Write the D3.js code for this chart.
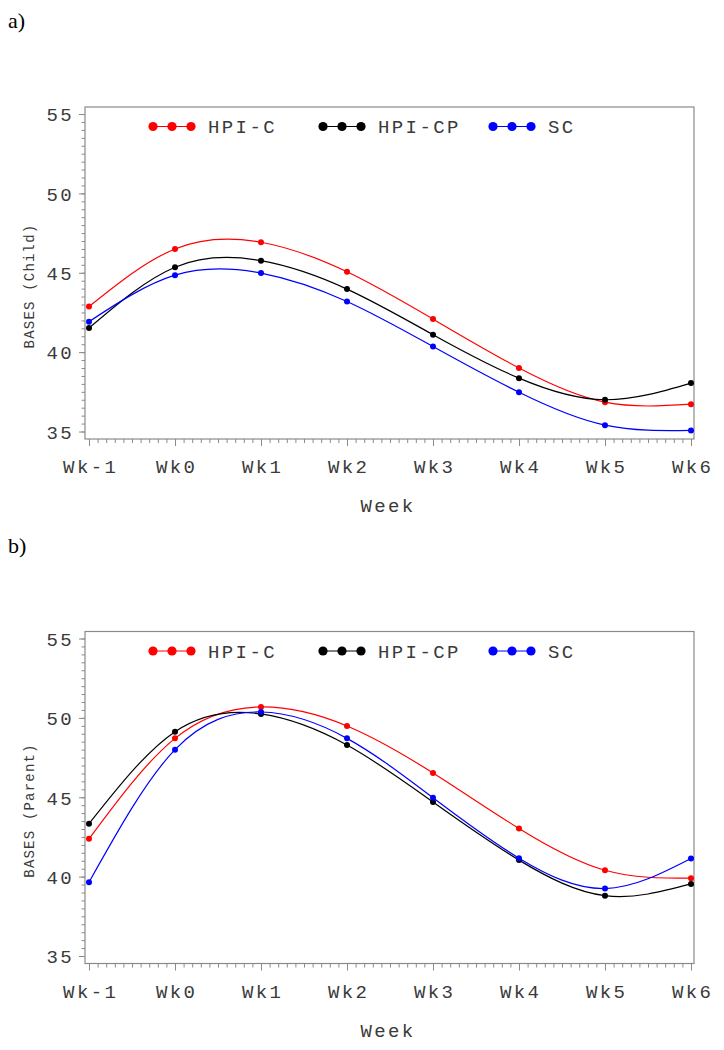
<!DOCTYPE html>
<html>
<head>
<meta charset="utf-8">
<script src="https://cdn.jsdelivr.net/npm/d3@7"></script>
<style>
  html, body { margin: 0; padding: 0; background: #fff; }
  svg { display: block; }
</style>
</head>
<body>
<svg id="chart" width="724" height="1050"></svg>
<script>
// ---------------- data ----------------
const weekLabels = ["Wk-1", "Wk0", "Wk1", "Wk2", "Wk3", "Wk4", "Wk5", "Wk6"];
const weekNums = [-1, 0, 1, 2, 3, 4, 5, 6];
const seriesNames = ["HPI-C", "HPI-CP", "SC"];
const seriesColors = ["#ff0000", "#000000", "#0000ff"];
const yTickValues = [35, 40, 45, 50, 55];

// a) Child
const childHPIC  = [42.87, 46.50, 46.92, 45.06, 42.08, 39.00, 36.85, 36.72];
const childHPICP = [41.52, 45.35, 45.76, 43.97, 41.10, 38.36, 37.00, 38.05];
const childSC    = [41.92, 44.85, 44.98, 43.19, 40.35, 37.47, 35.40, 35.07];

// b) Parent
const parentHPIC  = [42.38, 48.71, 50.69, 49.49, 46.53, 43.03, 40.40, 39.90];
const parentHPICP = [43.33, 49.13, 50.25, 48.29, 44.70, 41.04, 38.80, 39.54];
const parentSC    = [39.65, 48.00, 50.37, 48.71, 44.97, 41.16, 39.25, 41.14];

const panels = [
  { tag: "a)", title: "BASES (Child)",  series: [childHPIC, childHPICP, childSC],   top: 107 },
  { tag: "b)", title: "BASES (Parent)", series: [parentHPIC, parentHPICP, parentSC], top: 631.5 }
];

// ---------------- drawing ----------------
const svg = d3.select("#chart");
const FRAME_L = 85, FRAME_R = 694, FRAME_H = 332;
const MONO = "'Liberation Mono', 'DejaVu Sans Mono', monospace";
const AXIS_GREY = "#8a8a8a";
const TEXT_COL = "#3a3a3a";

const x = d3.scaleLinear().domain([-1, 6]).range([89, 691]);

panels.forEach(p => {
  const top = p.top, bottom = top + FRAME_H;
  const y = d3.scaleLinear().domain([35, 55]).range([top + 324.5, top + 7]);
  const g = svg.append("g");

  // panel tag
  g.append("text")
    .attr("x", 8).attr("y", top - 79)
    .attr("font-family", "'Liberation Serif', 'Times New Roman', serif")
    .attr("font-size", 22).attr("fill", "#000")
    .text(p.tag);

  // frame
  g.append("rect")
    .attr("x", FRAME_L).attr("y", top)
    .attr("width", FRAME_R - FRAME_L).attr("height", FRAME_H)
    .attr("fill", "none").attr("stroke", AXIS_GREY).attr("stroke-width", 1.2);

  // x minor ticks
  const xMinor = d3.axisBottom(x)
    .tickValues(d3.range(-10, 61).map(v => v / 10))
    .tickSize(4).tickFormat("");
  const gxm = g.append("g").attr("transform", `translate(0,${bottom})`).call(xMinor);
  gxm.select(".domain").remove();
  gxm.selectAll("line").attr("stroke", AXIS_GREY);

  // x major ticks + labels
  const xAxis = d3.axisBottom(x).tickValues(weekNums).tickSize(7)
    .tickFormat((d, i) => weekLabels[weekNums.indexOf(d)]);
  const gx = g.append("g").attr("transform", `translate(0,${bottom})`).call(xAxis);
  gx.select(".domain").remove();
  gx.selectAll("line").attr("stroke", AXIS_GREY);
  gx.selectAll("text")
    .attr("y", 34).attr("dy", 0).attr("dx", 1.2)
    .attr("font-family", MONO).attr("font-size", 19)
    .attr("letter-spacing", 2.4).attr("fill", TEXT_COL);

  // y minor ticks
  const yMinor = d3.axisLeft(y)
    .tickValues(d3.range(70, 111).map(v => v / 2))
    .tickSize(3.5).tickFormat("");
  const gym = g.append("g").attr("transform", `translate(${FRAME_L},0)`).call(yMinor);
  gym.select(".domain").remove();
  gym.selectAll("line").attr("stroke", AXIS_GREY);

  // y major ticks + labels
  const yAxis = d3.axisLeft(y).tickValues(yTickValues).tickSize(6).tickFormat(d3.format("d"));
  const gy = g.append("g").attr("transform", `translate(${FRAME_L},0)`).call(yAxis);
  gy.select(".domain").remove();
  gy.selectAll("line").attr("stroke", AXIS_GREY);
  gy.selectAll("text")
    .attr("x", -11).attr("dy", "0.36em")
    .attr("font-family", MONO).attr("font-size", 19)
    .attr("letter-spacing", 2.4).attr("fill", TEXT_COL);

  // axis titles
  g.append("text")
    .attr("x", 388).attr("y", bottom + 73)
    .attr("text-anchor", "middle")
    .attr("font-family", MONO).attr("font-size", 19)
    .attr("letter-spacing", 2.4).attr("fill", TEXT_COL)
    .text("Week");

  g.append("text")
    .attr("transform", `translate(34,${top + FRAME_H / 2 + 13}) rotate(-90)`)
    .attr("text-anchor", "middle")
    .attr("font-family", MONO).attr("font-size", 14)
    .attr("letter-spacing", 1.2).attr("fill", TEXT_COL)
    .text(p.title);

  // series
  const line = d3.line()
    .x((d, i) => x(weekNums[i]))
    .y(d => y(d))
    .curve(d3.curveNatural);

  p.series.forEach((vals, si) => {
    g.append("path")
      .datum(vals)
      .attr("d", line)
      .attr("fill", "none")
      .attr("stroke", seriesColors[si])
      .attr("stroke-width", 1.2);
    g.selectAll(null)
      .data(vals)
      .enter().append("circle")
      .attr("cx", (d, i) => x(weekNums[i]))
      .attr("cy", d => y(d))
      .attr("r", 3)
      .attr("fill", seriesColors[si]);
  });

  // legend
  const legendY = top + 19.5;
  const legendStarts = [153, 323, 493];
  seriesNames.forEach((name, si) => {
    const lx = legendStarts[si];
    const lg = g.append("g");
    lg.append("line")
      .attr("x1", lx).attr("x2", lx + 38)
      .attr("y1", legendY).attr("y2", legendY)
      .attr("stroke", seriesColors[si]).attr("stroke-width", 1);
    [0, 19, 38].forEach(dx => {
      lg.append("circle")
        .attr("cx", lx + dx).attr("cy", legendY).attr("r", 4.6)
        .attr("fill", seriesColors[si]);
    });
    lg.append("text")
      .attr("x", lx + 55).attr("y", legendY).attr("dy", "0.36em")
      .attr("font-family", MONO).attr("font-size", 19)
      .attr("letter-spacing", 2.4).attr("fill", TEXT_COL)
      .text(name);
  });
});
</script>
</body>
</html>
